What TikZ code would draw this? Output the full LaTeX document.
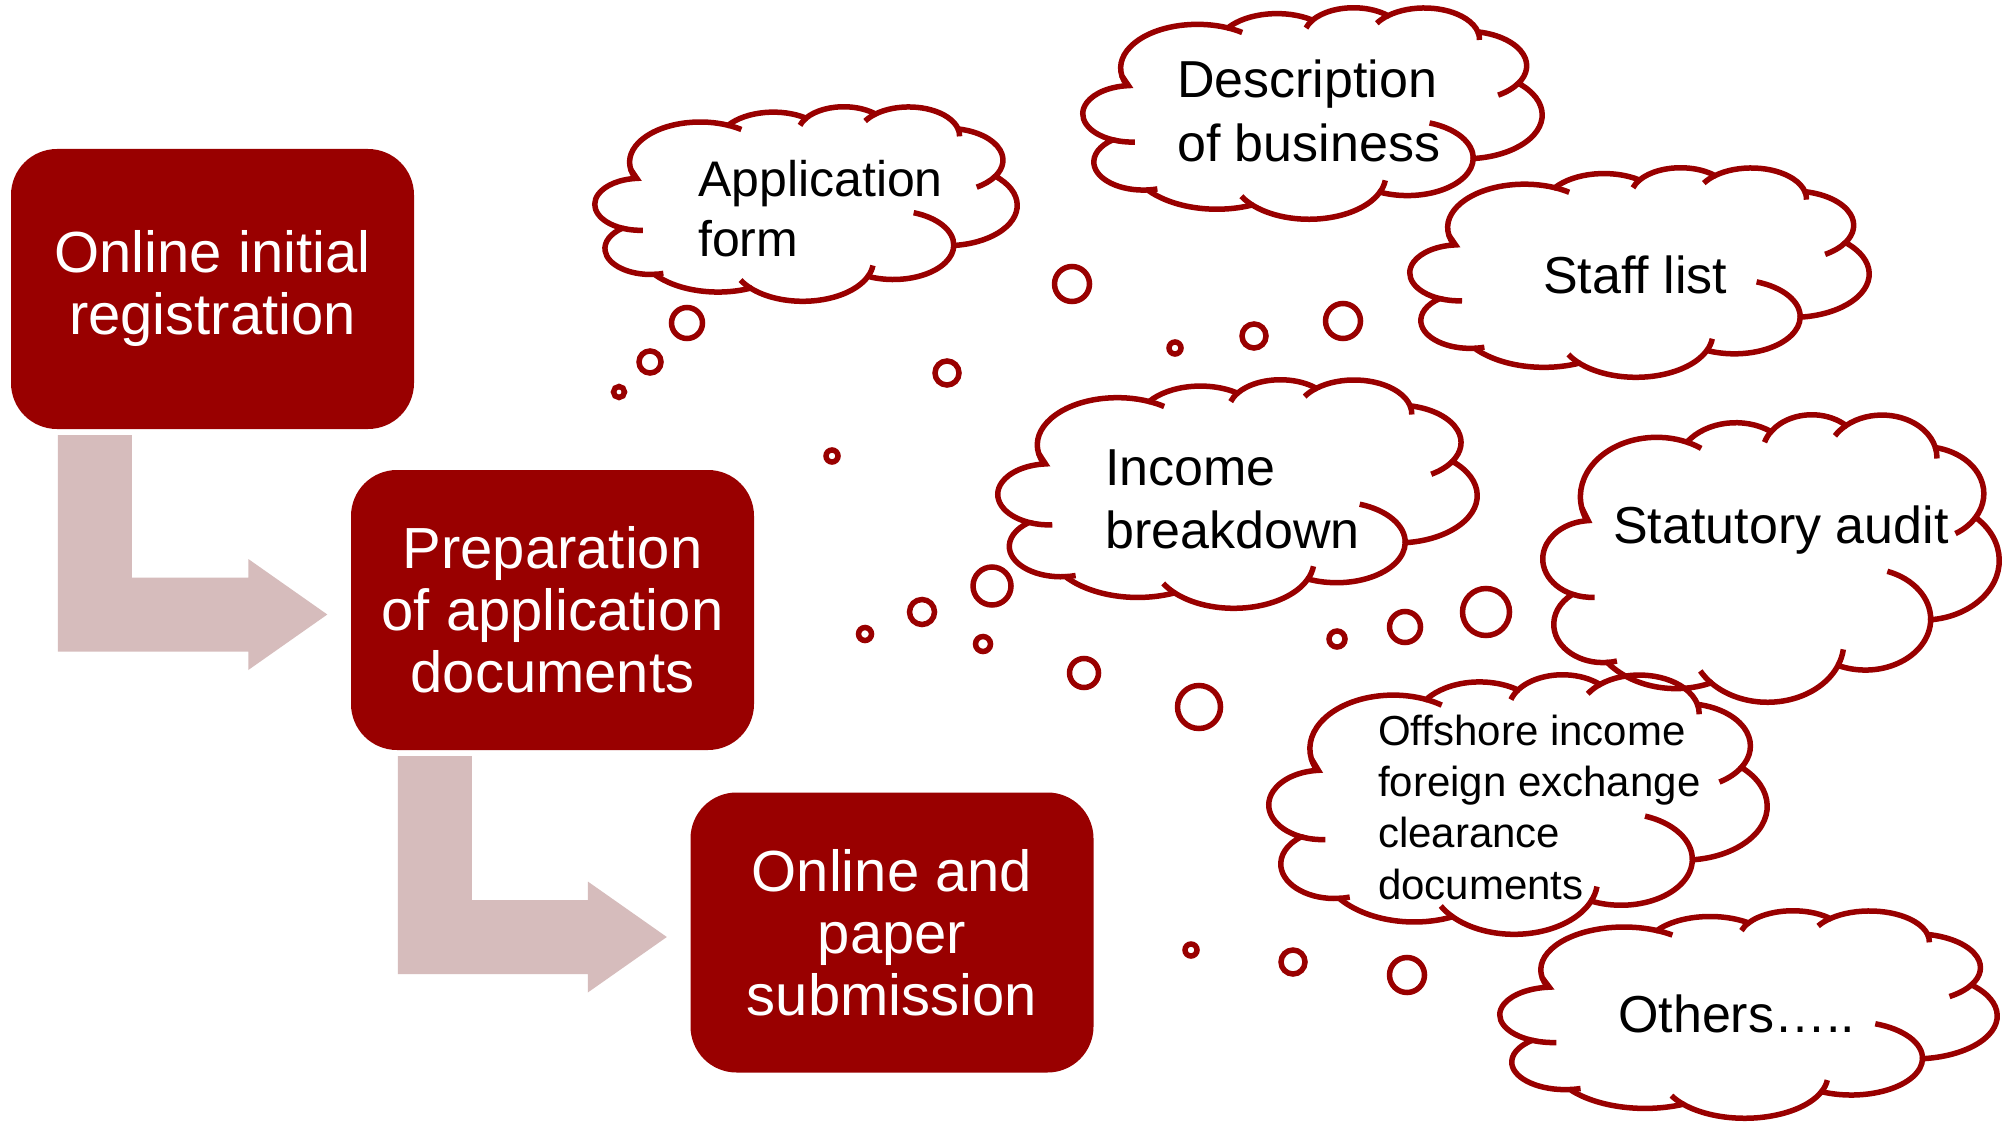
\documentclass[tikz,border=0pt]{standalone}
\usepackage{fontspec}
\setmainfont{Liberation Sans}
\usetikzlibrary{calc}

\definecolor{boxred}{HTML}{990000}
\definecolor{cloudred}{HTML}{990000}
\definecolor{flowpink}{HTML}{D6BCBC}

\newcommand{\fsz}[2]{\fontsize{#1pt}{#2pt}\selectfont}

\tikzset{
  stagebox/.style={fill=boxred, rounded corners=46pt, minimum width=403pt,
    minimum height=280pt, inner sep=0pt, text=white, align=center,
    font=\fsz{58}{62}},
  cloudline/.style={draw=cloudred, line width=5.5pt},
  bubble/.style={draw=cloudred, line width=5.5pt},
  bentarrow/.style={fill=flowpink},
  % anchored at the baseline of the last line
  cloudtext/.style={anchor=base west, align=left, inner sep=0pt, text=black,
    font=\fsz{52}{63}},
}

% Thought cloud fitted into the box (#1,#2)-(#3,#4), outer edge of the stroke.
% The outline is a chain of elliptic arcs; the short inner strokes continue
% some of those ellipses past the junctions J0..J11.
\newcommand{\thoughtcloud}[4]{%
  \pgfmathsetmacro\cldw{(#3-#1-5.5)/4039}%
  \pgfmathsetmacro\cldh{(#4-#2-5.5)/4446.7}%
  \begin{scope}[shift={(#1+2.75,#2+2.75)}]
  \begin{scope}[x={(\cldw pt,0pt)}, y={(0pt,-\cldh pt)}, shift={(-45.6,-2.1)}]
    \draw[cloudline] (390,1437) coordinate (J0)
      arc[start angle=-190.4875, delta angle=123.7805, x radius=675.3, y radius=919.0] coordinate (J1)
      arc[start angle=-144.1024, delta angle=89.9452,  x radius=533.3, y radius=726.7] coordinate (J2)
      arc[start angle=-145.8079, delta angle=99.7230,  x radius=436.5, y radius=594.5] coordinate (J3)
      arc[start angle=-130.9861, delta angle=117.2417, x radius=485.7, y radius=659.5] coordinate (J4)
      arc[start angle=-78.7089,  delta angle=109.0269, x radius=533.3, y radius=727.3] coordinate (J5)
      arc[start angle=-46.2673,  delta angle=130.2690, x radius=677.5, y radius=922.0] coordinate (J6)
      arc[start angle=0.6250,    delta angle=114.0333, x radius=578.5, y radius=786.7] coordinate (J7)
      arc[start angle=22.4516,   delta angle=115.1726, x radius=675.2, y radius=921.5] coordinate (J8)
      arc[start angle=66.2426,   delta angle=75.7110,  x radius=772.0, y radius=1054.3] coordinate (J9)
      arc[start angle=-274.9421, delta angle=146.7356, x radius=436.0, y radius=591.8] coordinate (J10)
      arc[start angle=-246.8285, delta angle=152.5189, x radius=434.5, y radius=594.5]
      -- cycle;
    \draw[cloudline]
      (J10) arc[start angle=113.1715,  delta angle=-26.4295, x radius=434.5, y radius=594.5]
      (J9)  arc[start angle=85.0579,   delta angle=-11.4475, x radius=436.0, y radius=591.8]
      (J8)  arc[start angle=137.6242,  delta angle=14.0811,  x radius=675.2, y radius=921.5]
      (J7)  arc[start angle=22.4516,   delta angle=-15.9984, x radius=675.2, y radius=921.5]
      (J6)  arc[start angle=0.6250,    delta angle=-70.9174, x radius=578.5, y radius=786.7]
      (J5)  arc[start angle=30.3180,   delta angle=27.7515,  x radius=533.3, y radius=727.3]
      (J4)  arc[start angle=-13.7444,  delta angle=14.8589,  x radius=485.7, y radius=659.5]
      (J3)  arc[start angle=-130.9861, delta angle=-18.1954, x radius=485.7, y radius=659.5]
      (J2)  arc[start angle=-145.8079, delta angle=-17.6864, x radius=436.5, y radius=594.5]
      (J1)  arc[start angle=-66.7070,  delta angle=12.3194,  x radius=675.3, y radius=919.0]
      (J0)  arc[start angle=-190.4875, delta angle=-11.8582, x radius=675.3, y radius=919.0];
  \end{scope}
  \end{scope}}

% Bent block arrow from below box #1 to the left side of box #2
\newcommand{\bentflow}[2]{%
  \path ($(#1.south west)+(47,6)$) coordinate (fl-a)
        ($(#1.south west)+(121,6)$) coordinate (fl-b)
        ($(#2.west)+(-23.5,4.5)$) coordinate (fl-tip)
        ($(fl-tip)+(-79,-37)$) coordinate (fl-up)
        ($(fl-tip)+(-79,37)$) coordinate (fl-lo);
  \fill[bentarrow] (fl-a) -- (fl-b) -- (fl-b |- fl-up) -- (fl-up)
    -- ($(fl-up)+(0,-18.5)$) -- (fl-tip) -- ($(fl-lo)+(0,18.5)$) -- (fl-lo)
    -- (fl-a |- fl-lo) -- cycle;}

\begin{document}
\begin{tikzpicture}[x=1pt, y=-1pt]
  \useasboundingbox (0,0) rectangle (2004,1123);
  \fill[white] (0,0) rectangle (2004,1123);

  % process stages
  \node[stagebox] (reg)  at (212.5,289)  {Online initial\\registration};
  \node[stagebox] (prep) at (552.5,610)  {Preparation\\of application\\documents};
  \node[stagebox] (sub)  at (892,932.5)  {Online and\\paper\\submission};

  \bentflow{reg}{prep}
  \bentflow{prep}{sub}

  % clouds
  \thoughtcloud{592}{104}{1020}{304}
  \thoughtcloud{1080}{5}{1545}{222}
  \thoughtcloud{1407}{165}{1872}{380}
  \thoughtcloud{995}{377}{1480}{611}
  \thoughtcloud{1540}{412}{2002}{705}
  \thoughtcloud{1266}{672}{1770}{937}
  \thoughtcloud{1497}{908}{2000}{1121}

  % thought bubbles
  \foreach \bx/\by/\br in {
      619/392/5.5, 650/362/11, 687/323/15.5, 947/373/12,
      1072/284/17.5, 1175/348/6, 1254/336/12, 1343/321/17.5,
      832/456/6, 865/634/6.5, 922/612/12.5, 992/586/19, 983/644/7.5,
      1084/673/14.5, 1199/707/21.5,
      1337/639/8, 1405/627/15.5, 1486/612/23.5,
      1191/950/6, 1293/962/12, 1407/975/17.5}
    \draw[bubble] (\bx,\by) circle[radius=\br];

  % cloud texts
  \node[cloudtext, font=\fsz{50}{60}] (tapp) at (698,257) {Application\\form};
  \node[cloudtext, font=\fsz{52}{64}] (tdesc) at (1177,162) {Description\\of business};
  \node[cloudtext] (tstaff) at (1543,293) {Staff list};
  \node[cloudtext] (tinc) at (1105,548) {Income\\breakdown};
  \node[cloudtext] (tstat) at (1613,543) {Statutory audit};
  \node[cloudtext, font=\fsz{42}{51.3}] (toff) at (1378,899)
    {Offshore income\\foreign exchange\\clearance\\documents};
  \node[cloudtext] (toth) at (1618,1032) {Others…..};
\end{tikzpicture}
\end{document}
